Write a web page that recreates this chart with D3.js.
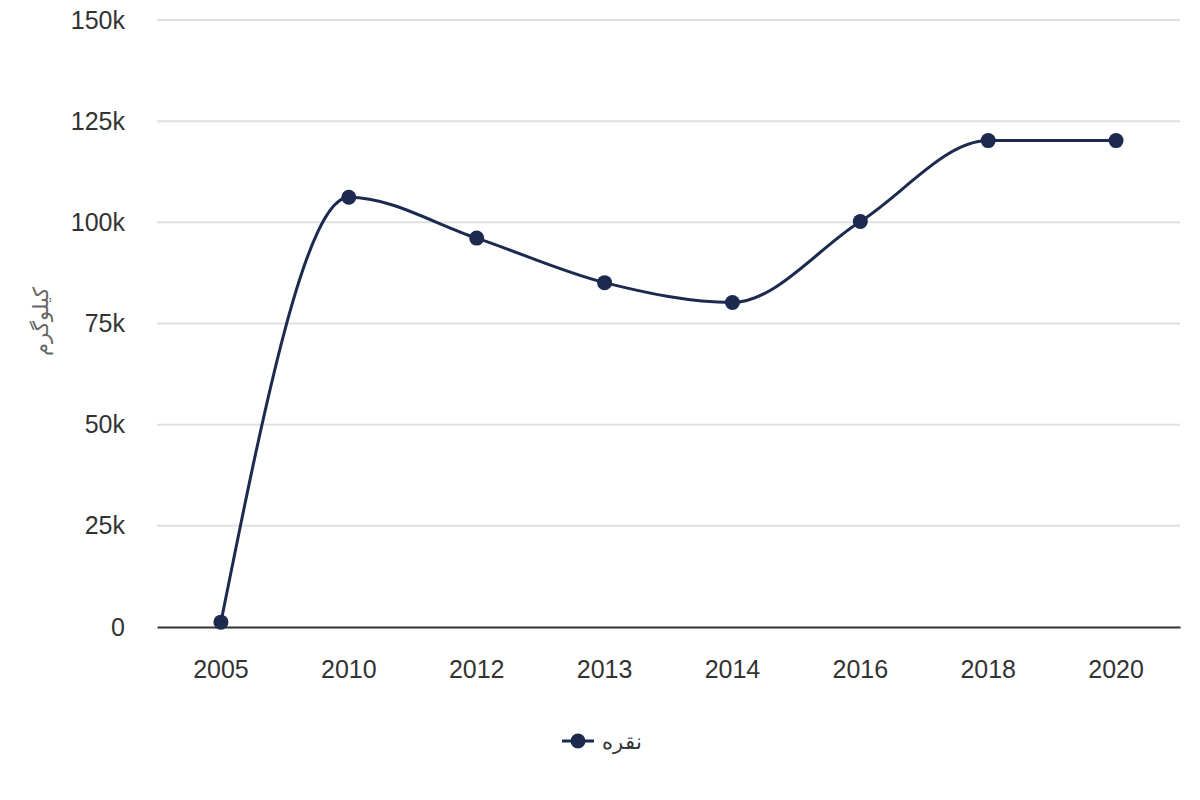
<!DOCTYPE html>
<html>
<head>
<meta charset="utf-8">
<script src="https://cdn.jsdelivr.net/npm/d3@7"></script>
<style>
  body { margin: 0; background: #fff; }
  svg text { font-family: "Liberation Sans", Arial, sans-serif; }
</style>
</head>
<body>
<svg id="chart" width="1200" height="800"></svg>
<script>
// 数据：年份与数值（单位：千克）
var years = ["2005", "2010", "2012", "2013", "2014", "2016", "2018", "2020"];
var silver = [1200, 106200, 96100, 85100, 80200, 100200, 120200, 120200];
var yTicks = [0, 25000, 50000, 75000, 100000, 125000, 150000];
var seriesName = "نقره";
var yTitle = "کیلوگرم";

var lineColor = "#1b2a4e";
var svg = d3.select("#chart");
var margin = { left: 157, right: 20, top: 20, bottom: 173 };
var width = 1200 - margin.left - margin.right;
var height = 800 - margin.top - margin.bottom;

var g = svg.append("g").attr("transform", "translate(" + margin.left + "," + margin.top + ")");

var x = d3.scaleBand().domain(years).range([0, width]);
var y = d3.scaleLinear().domain([0, 150000]).range([height, 0]);

// 网格线
g.selectAll(".grid")
  .data(yTicks.filter(function (d) { return d > 0; }))
  .enter().append("line")
  .attr("x1", 0).attr("x2", width)
  .attr("y1", function (d) { return y(d); })
  .attr("y2", function (d) { return y(d); })
  .attr("stroke", "#e0e0e0").attr("stroke-width", 2);

// y轴标签
var yAxis = g.append("g")
  .call(d3.axisLeft(y).tickValues(yTicks).tickSize(0).tickPadding(32)
    .tickFormat(function (d) { return d === 0 ? "0" : (d / 1000) + "k"; }));
yAxis.select(".domain").remove();
yAxis.selectAll("text").attr("font-size", 25).attr("fill", "#333").attr("font-family", "'Liberation Sans', Arial, sans-serif");

// x轴
var xAxis = g.append("g").attr("transform", "translate(0," + height + ")")
  .call(d3.axisBottom(x).tickSize(0).tickPadding(33));
xAxis.select(".domain").attr("stroke", "#333").attr("stroke-width", 2);
xAxis.selectAll("text").attr("font-size", 25).attr("fill", "#333").attr("font-family", "'Liberation Sans', Arial, sans-serif");

// y轴标题
svg.append("text")
  .attr("transform", "translate(40," + (margin.top + y(75000) - 2) + ") rotate(-90)")
  .attr("text-anchor", "middle")
  .attr("dominant-baseline", "central")
  .attr("font-size", 21)
  .attr("fill", "#666")
  .attr("font-family", "'DejaVu Sans', 'Noto Sans', sans-serif")
  .text(yTitle);

// 折线
var pts = years.map(function (yr, i) { return { year: yr, value: silver[i] }; });
var line = d3.line()
  .x(function (d) { return x(d.year) + x.bandwidth() / 2; })
  .y(function (d) { return y(d.value); })
  .curve(d3.curveMonotoneX);

g.append("path").datum(pts)
  .attr("d", line)
  .attr("fill", "none")
  .attr("stroke", lineColor)
  .attr("stroke-width", 3);

g.selectAll(".dot").data(pts).enter().append("circle")
  .attr("cx", function (d) { return x(d.year) + x.bandwidth() / 2; })
  .attr("cy", function (d) { return y(d.value); })
  .attr("r", 7.5)
  .attr("fill", lineColor);

// 图例
var lg = svg.append("g").attr("transform", "translate(562,741)");
lg.append("line").attr("x1", 0).attr("x2", 32).attr("y1", 0).attr("y2", 0)
  .attr("stroke", lineColor).attr("stroke-width", 3);
lg.append("circle").attr("cx", 16).attr("cy", 0).attr("r", 7.5).attr("fill", lineColor);
lg.append("text").attr("x", 40).attr("y", 0)
  .attr("dominant-baseline", "central")
  .attr("font-size", 21).attr("fill", "#333")
  .attr("font-family", "'DejaVu Sans', 'Noto Sans', sans-serif")
  .text(seriesName);
</script>
</body>
</html>
